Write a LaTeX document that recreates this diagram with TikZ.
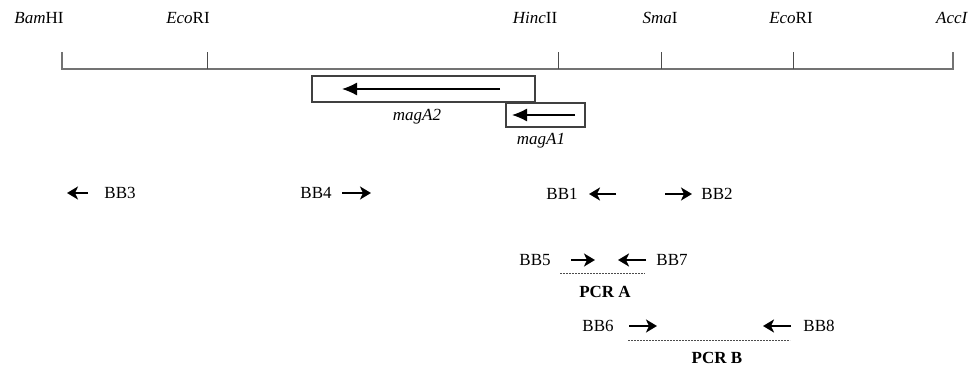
\documentclass[tikz,border=0pt]{standalone}
\usepackage{fontspec}
\setmainfont{Liberation Serif}
\usetikzlibrary{arrows.meta}

\begin{document}
\begin{tikzpicture}[x=1pt,y=-1pt,
    lbl/.style={font=\fontsize{17}{20}\selectfont},
    genebox/.style={draw=black!75,line width=1.8pt,minimum height=#1,inner sep=0pt},
    gene/.style={line width=1.2pt,-{Latex[length=15pt,width=13pt]}},
    primer/.style={line width=2.6pt,-{Stealth[length=11pt,width=13pt,inset=3pt]}},
    product/.style={black!70,line width=0.9pt,dash pattern=on 2pt off 1pt}]
  \useasboundingbox (0,0) rectangle (974,374);
  % restriction map
  \foreach \n/\x in {t1/62,t2/207,t3/558,t4/661,t5/793,t6/953}
    \coordinate (\n) at (\x,69);
  \draw[black!55,line width=1.6pt] (t1) ++(0,-17) -- (t1) -- (t6) -- ++(0,-17);
  \foreach \n in {t2,t3,t4,t5}
    \draw[black!70,line width=1pt] (\n) -- ++(0,-17);
  \node[lbl] (bam)  at (39,18)  {\textit{Bam}HI};
  \node[lbl] (ecoA) at (188,18) {\textit{Eco}RI};
  \node[lbl] (hinc) at (535,18) {\textit{Hinc}II};
  \node[lbl] (sma)  at (660,18) {\textit{Sma}I};
  \node[lbl] (ecoB) at (791,18) {\textit{Eco}RI};
  \node[lbl] (acc)  at (952,18) {\textit{AccI}};
  % genes
  \node[genebox=26pt,minimum width=223pt] (magAtwo) at (423.5,89) {};
  \node[genebox=24pt,minimum width=79pt] (magAone) at (545.5,115) {};
  \coordinate (a2s) at (500,89);
  \coordinate (a2e) at (342,89);
  \coordinate (a1s) at (575,115);
  \coordinate (a1e) at (512,115);
  \draw[gene] (a2s) -- (a2e);
  \draw[gene] (a1s) -- (a1e);
  \node[lbl] (magAtwoL) at (417,117) {\textit{magA2}};
  \node[lbl] (magAoneL) at (541,141) {\textit{magA1}};
  % primers
  \node[lbl] (bb3) at (120,193) {BB3};
  \node[lbl] (bb4) at (316,193) {BB4};
  \node[lbl] (bb1) at (562,194) {BB1};
  \node[lbl] (bb2) at (717,194) {BB2};
  \coordinate (p3s) at (88,193);  \coordinate (p3e) at (67,193);
  \coordinate (p4s) at (342,193); \coordinate (p4e) at (371,193);
  \coordinate (p1s) at (616,194); \coordinate (p1e) at (589,194);
  \coordinate (p2s) at (665,194); \coordinate (p2e) at (692,194);
  \draw[primer] (p3s) -- (p3e);
  \draw[primer] (p4s) -- (p4e);
  \draw[primer] (p1s) -- (p1e);
  \draw[primer] (p2s) -- (p2e);
  % PCR A
  \node[lbl] (bb5) at (535,260) {BB5};
  \node[lbl] (bb7) at (672,260) {BB7};
  \coordinate (p5s) at (571,260); \coordinate (p5e) at (595,260);
  \coordinate (p7s) at (646,260); \coordinate (p7e) at (618,260);
  \draw[primer] (p5s) -- (p5e);
  \draw[primer] (p7s) -- (p7e);
  \coordinate (da1) at (560,273); \coordinate (da2) at (645,273);
  \draw[product] (da1) -- (da2);
  \node[lbl,font=\fontsize{17}{20}\selectfont\bfseries] (pcrA) at (605,292) {PCR A};
  % PCR B
  \node[lbl] (bb6) at (598,326) {BB6};
  \node[lbl] (bb8) at (819,326) {BB8};
  \coordinate (p6s) at (629,326); \coordinate (p6e) at (657,326);
  \coordinate (p8s) at (791,326); \coordinate (p8e) at (763,326);
  \draw[primer] (p6s) -- (p6e);
  \draw[primer] (p8s) -- (p8e);
  \coordinate (db1) at (628,340); \coordinate (db2) at (790,340);
  \draw[product] (db1) -- (db2);
  \node[lbl,font=\fontsize{17}{20}\selectfont\bfseries] (pcrB) at (717,358) {PCR B};
\end{tikzpicture}
\end{document}
